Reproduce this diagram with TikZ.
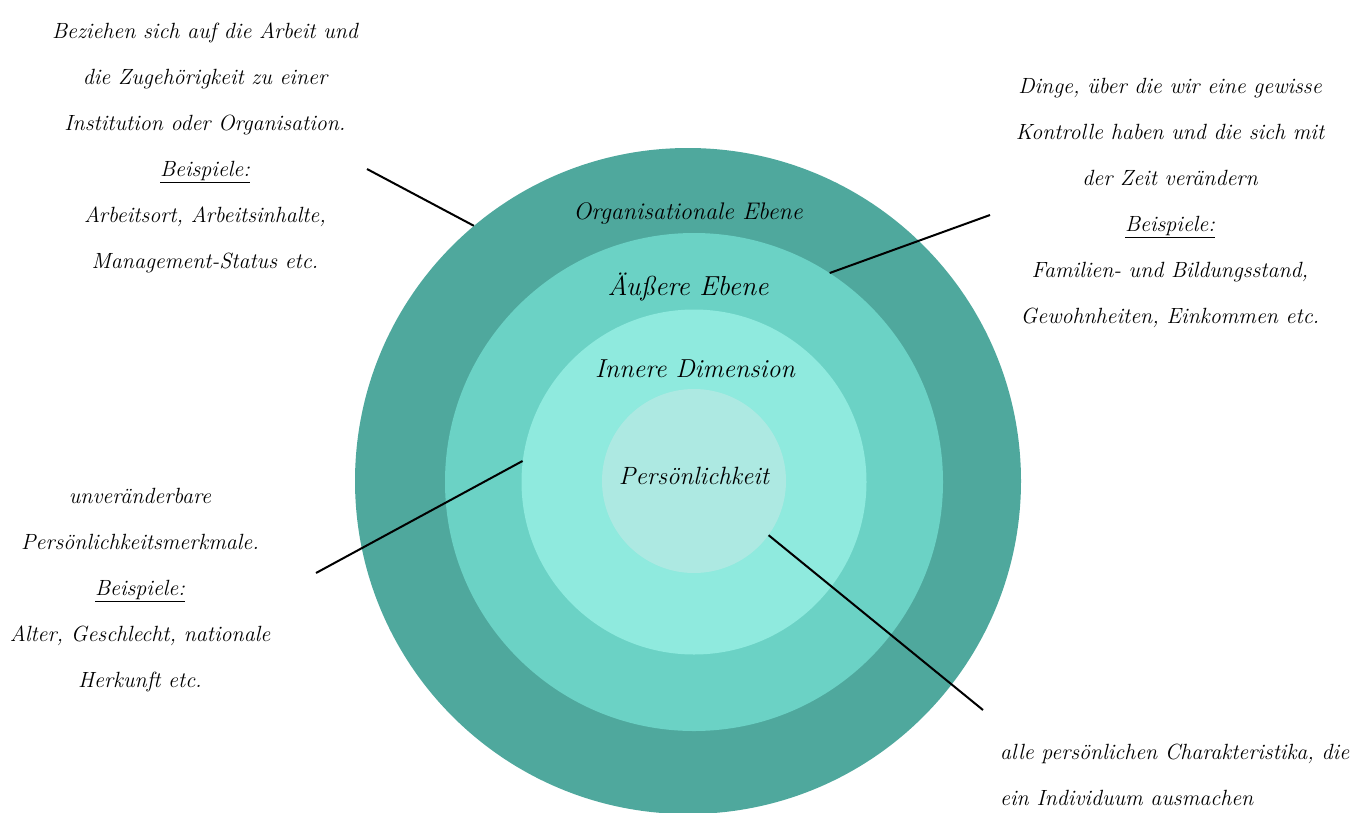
\documentclass[tikz,border=0pt]{standalone}
\definecolor{ringOrga}{HTML}{4FA89D}
\definecolor{ringAussen}{HTML}{6BD2C5}
\definecolor{ringInnen}{HTML}{8FEADE}
\definecolor{ringKern}{HTML}{ADE9E2}
\tikzset{
	ring/.style={circle, inner sep=0pt, minimum size=#1},
	ringlabel/.style={font=\itshape\fontsize{#1}{30}\selectfont, inner sep=0pt},
	notetext/.style={font=\itshape\fontsize{22}{46}\selectfont, align=center, inner sep=0pt},
	leader/.style={line width=2pt, black}
}
\begin{document}
\begin{tikzpicture}[x=1pt, y=-1pt]
	\useasboundingbox (0,0) rectangle (1355,812);
	\clip (0,0) rectangle (1355,812);
	% the four rings, from outside to inside
	\node[ring=666pt, fill=ringOrga](orga) at (688,481){};
	\node[ring=498pt, fill=ringAussen](aussen) at (694,482){};
	\node[ring=345pt, fill=ringInnen](innen) at (694,482){};
	\node[ring=184pt, fill=ringKern](kern) at (694,481){};
	\node[ringlabel=24](orgaLabel) at (688,213){Organisationale Ebene};
	\node[ringlabel=27.5](aussenLabel) at (688,287){Äußere Ebene};
	\node[ringlabel=26](innenLabel) at (695,369){Innere Dimension};
	\node[ringlabel=25](kernLabel) at (694,476){Persönlichkeit};
	% explanations
	\node[notetext](orgaNote) at (205,148){Beziehen sich auf die Arbeit und\\die Zugehörigkeit zu einer\\Institution oder Organisation.\\\underline{Beispiele:}\\Arbeitsort, Arbeitsinhalte,\\Management-Status etc.};
	\node[notetext](aussenNote) at (1170,203){Dinge, über die wir eine gewisse\\Kontrolle haben und die sich mit\\der Zeit verändern\\\underline{Beispiele:}\\Familien- und Bildungsstand,\\Gewohnheiten, Einkommen etc.};
	\node[notetext](innenNote) at (140,590){unveränderbare\\Persönlichkeitsmerkmale.\\\underline{Beispiele:}\\Alter, Geschlecht, nationale\\Herkunft etc.};
	\node[notetext, align=left, anchor=west](kernNote) at (1000,775){alle persönlichen Charakteristika, die\\ein Individuum ausmachen};
	% leader lines
	\coordinate (orgaEnd) at (367,169);
	\coordinate (aussenEnd) at (990,215);
	\coordinate (innenEnd) at (316,573);
	\coordinate (kernEnd) at (983,710);
	\draw[leader] (orgaEnd) -- (orga.130);
	\draw[leader] (aussenEnd) -- (aussen.57.7);
	\draw[leader] (innenEnd) -- (innen.173.4);
	\draw[leader] (kernEnd) -- (kern.-36.5);
\end{tikzpicture}
\end{document}
